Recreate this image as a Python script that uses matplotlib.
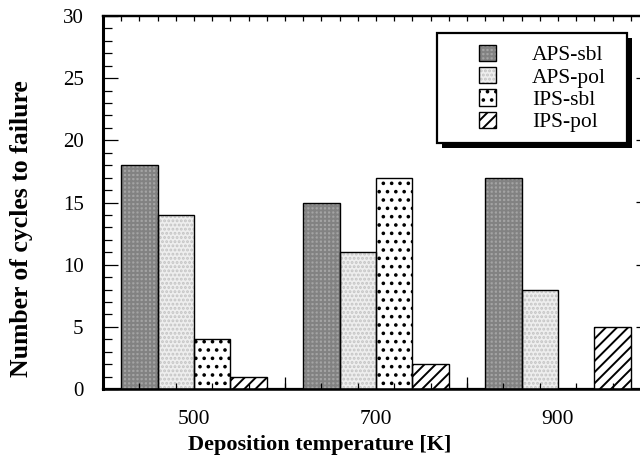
import numpy as np
import matplotlib
matplotlib.use('Agg')
import matplotlib.pyplot as plt
import matplotlib.patches as mpatches
import matplotlib.patheffects as pe
from matplotlib.legend_handler import HandlerTuple
from matplotlib.ticker import MultipleLocator

# ---- data ----
temps = [500, 700, 900]
temp_labels = ['500', '700', '900']
series_names = ['APS-sbl', 'APS-pol', 'IPS-sbl', 'IPS-pol']
aps_sbl = [18, 15, 17]
aps_pol = [14, 11, 8]
ips_sbl = [4, 17, 0]
ips_pol = [1, 2, 5]
y_ticks = [0, 5, 10, 15, 20, 25, 30]

plt.rcParams['font.family'] = ['Liberation Serif', 'DejaVu Serif']
plt.rcParams['hatch.linewidth'] = 1.4

fig = plt.figure(figsize=(6.4, 4.59), dpi=100)
ax = fig.add_axes([103/640, 1-389/459, 546/640, 373/459])

styles = [
    dict(face='#a4a4a4', hatch='++++', hcol='#828282'),
    dict(face='#eeeeee', hatch='....', hcol='#c4c4c4'),
    dict(face='white', hatch='..', hcol='black'),
    dict(face='white', hatch='///', hcol='black'),
]
offsets = [-60, -20, 20, 60]
width = 40
x = np.array(temps)
handles = []
for vals, off, st in zip([aps_sbl, aps_pol, ips_sbl, ips_pol], offsets, styles):
    fill = ax.bar(x + off, vals, width, color=st['face'], edgecolor=st['hcol'],
                  linewidth=0, hatch=st['hatch'], zorder=1)
    edge = ax.bar(x + off, vals, width, fill=False, edgecolor='black',
                  linewidth=1.0, zorder=1.1)
    handles.append((fill[0], edge[0]))

ax.set_xlim(400, 1000)
ax.set_ylim(0, 30)

ax.set_yticks(y_ticks)
ax.yaxis.set_minor_locator(MultipleLocator(1))
ax.tick_params(axis='y', which='major', direction='in', length=10.8, width=0.9,
               labelsize=15, pad=14, right=False)
ax.tick_params(axis='y', which='minor', direction='in', length=6.5, width=0.9, right=False)

ax.set_xticks(temps, temp_labels)
ax.xaxis.set_minor_locator(MultipleLocator(40))
ax.tick_params(axis='x', which='major', length=0, labelsize=15.5, pad=15, top=False)
ax.tick_params(axis='x', which='minor', direction='in', length=4.3, width=0.9, top=False)

sec_b = ax.secondary_xaxis('bottom')
sec_b.set_xticks([600, 800])
sec_b.tick_params(direction='in', length=8.6, width=0.9, labelbottom=False)

sec_t = ax.secondary_xaxis('top')
sec_t.set_xticks(np.arange(400, 1001, 20))
sec_t.tick_params(direction='in', length=3.6, width=0.9, labeltop=False)

sec_r = ax.secondary_yaxis('right')
sec_r.set_yticks([5, 10, 15, 20, 25])
sec_r.tick_params(direction='in', length=9.4, width=0.9, labelright=False)

ax.spines['left'].set_linewidth(2.2)
ax.spines['bottom'].set_linewidth(1.8)
ax.spines['top'].set_linewidth(1.6)
for s in (sec_b, sec_t, sec_r):
    for sp in s.spines.values():
        sp.set_linewidth(1.6)

ax.set_xlabel('Deposition temperature [K]', fontsize=16, fontweight='bold')
ax.xaxis.set_label_coords(0.397, -0.122)
ax.set_ylabel('Number of cycles to failure', fontsize=18.5, fontweight='bold')
ax.yaxis.set_label_coords(-0.128, 0.429)

# legend frame (decoration) with solid black drop shadow
frame = mpatches.Rectangle((437/640, 1-143/459), 190/640, 110/459,
                           transform=fig.transFigure, facecolor='white',
                           edgecolor='black', linewidth=1.6, zorder=4, clip_on=False)
frame.set_path_effects([pe.SimplePatchShadow(offset=(3.5, -3.5), shadow_rgbFace='black', alpha=1),
                        pe.Normal()])
ax.add_patch(frame)

leg = ax.legend(handles, series_names, loc='center',
                bbox_to_anchor=(542.5/640, 1-88.5/459), bbox_transform=fig.transFigure,
                fontsize=15.5, handlelength=0.79, handleheight=0.79, handletextpad=1.67,
                labelspacing=0.08, borderpad=0, borderaxespad=0, frameon=False,
                handler_map={tuple: HandlerTuple(ndivide=1)})
leg.set_zorder(5)

fig.savefig('out.png', dpi=100)
